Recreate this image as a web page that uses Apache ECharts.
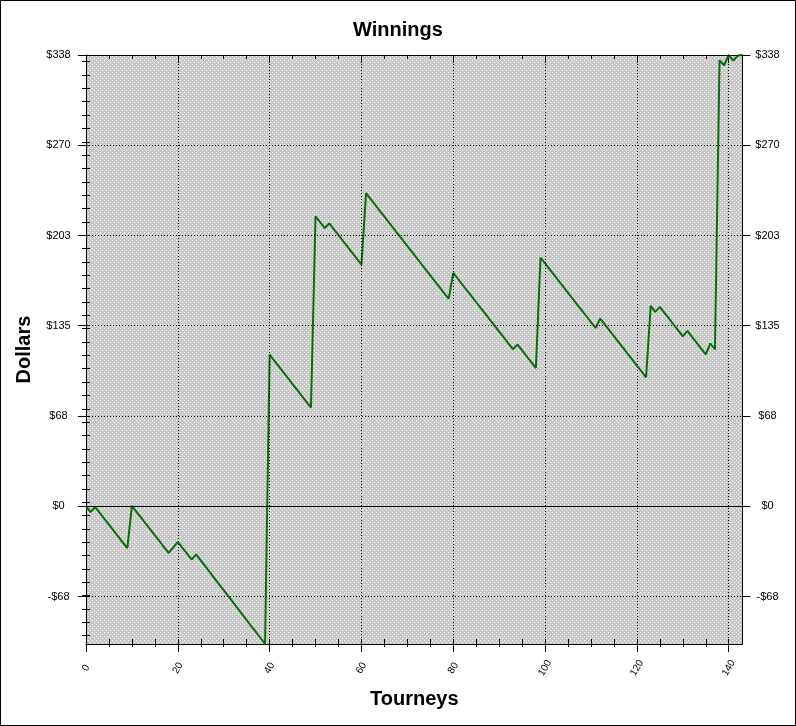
<!DOCTYPE html>
<html><head><meta charset="utf-8">
<script src="https://cdn.jsdelivr.net/npm/echarts@6/dist/echarts.min.js"></script>
<style>html,body{margin:0;padding:0;background:#fff}#c{width:796px;height:726px}</style>
</head><body><div id="c"></div>
<script>
// ---- data ----
const winnings = [
  0, -4.4, -0.6, -5.0, -9.4, -13.8, -18.2, -22.6, -27.0, -31.4,
  0.2, -4.2, -8.6, -13.0, -17.4, -21.8, -26.2, -30.6, -35.0, -30.9,
  -26.7, -31.1, -35.5, -39.9, -36.1, -40.6, -45.0, -49.5, -54.0, -58.5,
  -62.9, -67.4, -71.9, -76.3, -80.8, -85.3, -89.8, -94.2, -98.7, -103.2,
  113.5, 109.1, 104.7, 100.3, 95.9, 91.5, 87.1, 82.7, 78.3, 73.9,
  217.2, 212.8, 208.4, 211.8, 207.4, 203.0, 198.6, 194.2, 189.8, 185.4,
  181.0, 234.5, 230.1, 225.7, 221.3, 216.9, 212.5, 208.1, 203.7, 199.3,
  194.9, 190.5, 186.1, 181.7, 177.3, 172.9, 168.5, 164.1, 159.7, 155.3,
  174.8, 170.4, 166.0, 161.6, 157.2, 152.8, 148.4, 144.0, 139.6, 135.2,
  130.8, 126.4, 122.0, 117.6, 121.1, 116.7, 112.3, 107.9, 103.5, 186.3,
  181.9, 177.5, 173.1, 168.7, 164.3, 159.9, 155.5, 151.1, 146.7, 142.3,
  137.9, 133.5, 140.6, 136.2, 131.8, 127.4, 123.0, 118.6, 114.2, 109.8,
  105.4, 101.0, 96.6, 150.0, 145.6, 149.3, 144.9, 140.5, 136.1, 131.7,
  127.3, 131.3, 126.9, 122.5, 118.1, 113.7, 121.9, 117.5, 334.0, 330.3,
  338.0, 333.8, 337.6, 338.0
];
const tourneys = winnings.map((_, i) => i);
const xTicks = [0, 20, 40, 60, 80, 100, 120, 140];
const xMinor = [5, 10, 15, 25, 30, 35, 45, 50, 55, 65, 70, 75, 85, 90, 95, 105, 110, 115, 125, 130, 135];
const yMajor = [-67.6, 0, 67.6, 135.2, 202.8, 270.4, 338];
const yLabels = ['-$68', '$0', '$68', '$135', '$203', '$270', '$338'];
const yMinor = [];
for (let v = -97; v <= 333; v += 10) yMinor.push(v);

const yMin = Math.min(...winnings), yMax = Math.max(...winnings);
const xMax = tourneys[tourneys.length - 1];

// ---- styling ----
const FONT = 'Liberation Sans, Arial, sans-serif';
const black = { color: '#000', width: 1 };
const dotted = { color: '#000', width: 1, type: [1, 2] };
const pc = document.createElement('canvas'); pc.width = 4; pc.height = 4;
const g = pc.getContext('2d');
g.fillStyle = '#c8c8c8'; g.fillRect(0, 0, 4, 4);
g.fillStyle = '#ffffff'; g.fillRect(0, 0, 1, 1); g.fillRect(2, 2, 1, 1);

function yLabelFmt(v) {
  let best = 0;
  for (let i = 1; i < yMajor.length; i++) if (Math.abs(yMajor[i] - v) < Math.abs(yMajor[best] - v)) best = i;
  return yLabels[best];
}

const xBase = { type: 'value', min: xTicks[0], max: xMax, splitLine: { show: false }, axisLabel: { show: false } };
const yBase = { type: 'value', min: yMin, max: yMax, splitLine: { show: false } };

function xTickAxis(pos, showLine, inside, len, values) {
  return Object.assign({}, xBase, {
    position: pos,
    axisLine: { show: showLine, onZero: false, lineStyle: black },
    axisTick: { show: true, inside: inside, length: len, customValues: values, lineStyle: black }
  });
}

const xAxis = [
  Object.assign(xTickAxis('bottom', true, false, 8, xTicks), {
    axisLabel: { show: true, customValues: xTicks, rotate: 60, fontSize: 10, color: '#000', fontFamily: FONT, margin: 24,
      align: 'center', verticalAlign: 'middle', formatter: v => String(v) },
    name: 'Tourneys', nameLocation: 'middle', nameGap: 55,
    nameTextStyle: { fontSize: 20, fontWeight: 'bold', color: '#000', fontFamily: FONT, verticalAlign: 'middle' }
  }),
  xTickAxis('bottom', false, true, 5, xTicks.concat(xMinor)),
  xTickAxis('bottom', false, false, 3, xMinor),
  xTickAxis('top', true, true, 8, xTicks),
  xTickAxis('top', false, true, 4, xMinor)
];

function ySide(pos, margin, withName) {
  const main = Object.assign({}, yBase, {
    position: pos,
    axisLine: { show: true, onZero: false, lineStyle: black },
    axisTick: { show: true, length: 8, customValues: yMajor, lineStyle: black },
    axisLabel: { customValues: yMajor, formatter: yLabelFmt, margin: margin, align: 'center', color: '#000', fontSize: 11, fontFamily: FONT }
  });
  if (withName) Object.assign(main, {
    name: 'Dollars', nameLocation: 'middle', nameGap: 61.5,
    nameTextStyle: { fontSize: 20, fontWeight: 'bold', color: '#000', fontFamily: FONT, verticalAlign: 'middle' }
  });
  return [
    main,
    Object.assign({}, yBase, { position: pos, axisLine: { show: false },
      axisTick: { show: true, inside: true, length: 4, customValues: yMajor.concat(yMinor), lineStyle: black },
      axisLabel: { show: false } }),
    Object.assign({}, yBase, { position: pos, axisLine: { show: false },
      axisTick: { show: true, length: 4, customValues: yMinor, lineStyle: black },
      axisLabel: { show: false } })
  ];
}
const yAxis = ySide('left', 27.5, true).concat(ySide('right', 25, false));

const gridLines = yMajor.map(v => ({ yAxis: v, lineStyle: v === 0 ? { color: '#000', width: 1, type: 'solid' } : dotted }))
  .concat(xTicks.filter(v => v > 0).map(v => ({ xAxis: v, lineStyle: dotted })));

const chart = echarts.init(document.getElementById('c'), null, { renderer: 'canvas' });
chart.setOption({
  animation: false,
  backgroundColor: '#ffffff',
  title: { text: 'Winnings', left: 'center', top: 15,
    textStyle: { fontSize: 20, fontWeight: 'bold', color: '#000', fontFamily: FONT } },
  grid: { left: 86, right: 53.5, top: 55, bottom: 82, show: true, borderWidth: 0,
    backgroundColor: { image: pc, repeat: 'repeat' } },
  xAxis: xAxis,
  yAxis: yAxis,
  graphic: [{ type: 'rect', silent: true, z: 100,
    shape: { x: 0.5, y: 0.5, width: 795, height: 725 },
    style: { fill: null, stroke: '#000', lineWidth: 1 } }],
  series: [
    { type: 'line', xAxisIndex: 0, yAxisIndex: 0, data: [], z: 1, silent: true,
      markLine: { silent: true, symbol: 'none', animation: false, label: { show: false }, data: gridLines } },
    { type: 'line', xAxisIndex: 0, yAxisIndex: 0, z: 3,
      data: tourneys.map((t, i) => [t, winnings[i]]),
      showSymbol: false, symbol: 'none',
      lineStyle: { color: '#0a6e0a', width: 2 } }
  ]
});
</script></body></html>
